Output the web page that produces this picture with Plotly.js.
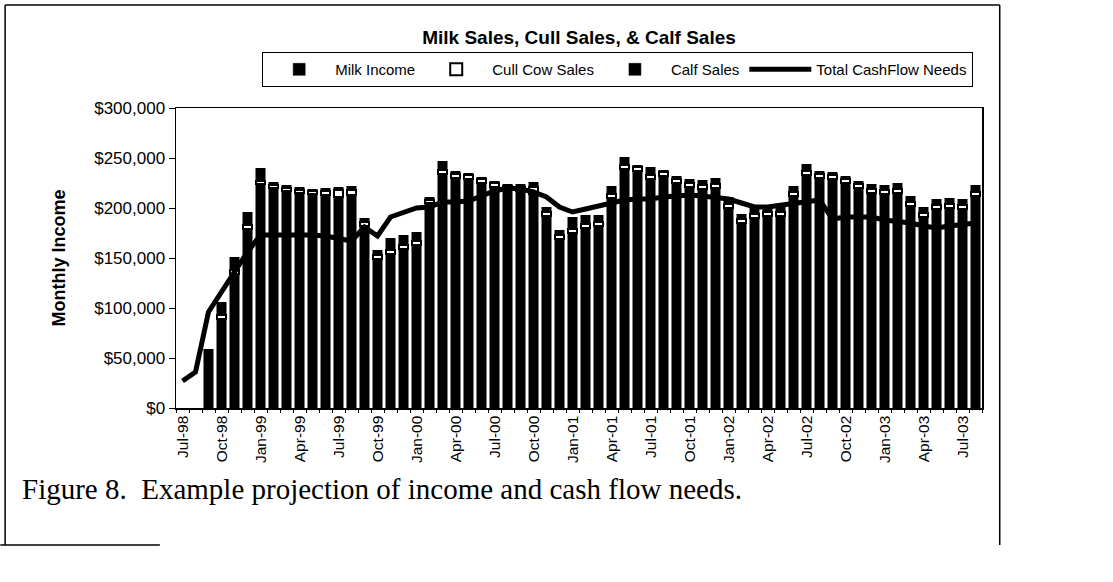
<!DOCTYPE html>
<html>
<head>
<meta charset="utf-8">
<script src="https://cdn.plot.ly/plotly-3.0.1.min.js"></script>
<style>html,body{margin:0;padding:0;background:#fff;}#chart{width:1113px;height:582px;}</style>
</head>
<body>
<div id="chart"></div>
<script>
var months = ["Jul-98","Aug-98","Sep-98","Oct-98","Nov-98","Dec-98",
"Jan-99","Feb-99","Mar-99","Apr-99","May-99","Jun-99","Jul-99","Aug-99","Sep-99","Oct-99","Nov-99","Dec-99",
"Jan-00","Feb-00","Mar-00","Apr-00","May-00","Jun-00","Jul-00","Aug-00","Sep-00","Oct-00","Nov-00","Dec-00",
"Jan-01","Feb-01","Mar-01","Apr-01","May-01","Jun-01","Jul-01","Aug-01","Sep-01","Oct-01","Nov-01","Dec-01",
"Jan-02","Feb-02","Mar-02","Apr-02","May-02","Jun-02","Jul-02","Aug-02","Sep-02","Oct-02","Nov-02","Dec-02",
"Jan-03","Feb-03","Mar-03","Apr-03","May-03","Jun-03","Jul-03","Aug-03"];

var labelledMonths = ["Jul-98","Oct-98","Jan-99","Apr-99","Jul-99","Oct-99","Jan-00","Apr-00","Jul-00","Oct-00",
"Jan-01","Apr-01","Jul-01","Oct-01","Jan-02","Apr-02","Jul-02","Oct-02","Jan-03","Apr-03","Jul-03"];

var milkIncome = [null,null,59000,89000,134000,179000,
224000,220000,217000,215000,214000,213000,211000,213000,182000,149000,154000,159000,
163000,205000,234000,230000,229000,225000,221000,219000,217000,214000,192000,169000,
175000,180000,182000,210000,239000,237000,229000,232000,225000,221000,219000,220000,
200000,185000,190000,192000,192000,212000,233000,230000,229000,225000,220000,215000,
214000,215000,202000,191000,199000,200000,199000,212000];

var cullCowSales = [null,null,null,4000,4000,4000,
3000,3000,3000,3000,3000,4000,7000,5000,4000,4000,4000,4000,
4000,3000,4000,4000,4000,4000,4000,3000,4000,7000,4000,4000,
4000,4000,4000,4000,4000,4000,4000,4000,4000,4000,4000,4000,
4000,4000,4000,4000,4000,4000,4000,4000,4000,4000,4000,4000,
4000,4000,4000,4000,4000,4000,4000,4000];

var calfSales = [null,null,null,13000,13000,13000,
13000,3000,3000,3000,2000,3000,3000,4000,4000,5000,12000,10000,
9000,3000,9000,3000,2000,2000,2000,2000,3000,5000,5000,5000,
12000,9000,7000,8000,8000,2000,8000,2000,3000,4000,5000,6000,
7000,5000,7000,7000,8000,6000,7000,3000,3000,3000,3000,5000,
5000,6000,6000,6000,6000,6000,6000,7000];

var cashFlowNeeds = [27000,36000,96000,116000,137000,156000,
173000,173000,173000,174000,173000,172000,170000,167000,181000,172000,191000,195000,
200000,201000,206000,206000,207000,212000,217000,220000,219000,216000,211000,201000,
196000,199000,202000,204000,208000,209000,209000,211000,212000,213000,212000,211000,
209000,205000,201000,201000,203000,205000,207000,208000,189000,191000,191000,191000,
188000,187000,185000,182000,180000,182000,184000,185000];

var yTickVals = [0,50000,100000,150000,200000,250000,300000];
var yTickText = ["$0","$50,000","$100,000","$150,000","$200,000","$250,000","$300,000"];

var tickText = months.map(function(m){ return labelledMonths.indexOf(m) >= 0 ? m : ""; });

var font = "Liberation Sans, Arial, sans-serif";

var traces = [
  {type:"bar", name:"Milk Income", x:months, y:milkIncome,
   marker:{color:"#000000", line:{color:"#000000", width:0.5}}},
  {type:"bar", name:"Cull Cow Sales", x:months, y:cullCowSales,
   marker:{color:"#ffffff", line:{color:"#000000", width:2}}},
  {type:"bar", name:"Calf Sales", x:months, y:calfSales,
   marker:{color:"#000000", line:{color:"#000000", width:0.5}}},
  {type:"scatter", mode:"lines", name:"Total CashFlow Needs", x:months, y:cashFlowNeeds,
   line:{color:"#000000", width:5}}
];

var layout = {
  width:1113, height:582,
  margin:{l:176, r:131, t:108, b:174},
  paper_bgcolor:"#ffffff", plot_bgcolor:"#ffffff",
  barmode:"stack", bargap:0.3,
  font:{family:font, color:"#000000", size:15},
  title:{text:"<b>Milk Sales, Cull Sales, & Calf Sales</b>", font:{family:font, size:19, color:"#000"},
         x:0.5, xref:"paper", xanchor:"center", y:0.936, yref:"container", yanchor:"middle"},
  showlegend:true,
  legend:{orientation:"h", x:0.548, xanchor:"center", y:1.128, yanchor:"middle",
          bordercolor:"#000", borderwidth:1, bgcolor:"#fff",
          font:{family:font, size:15, color:"#000"}, traceorder:"normal",
          itemwidth:62, tracegroupgap:0},
  xaxis:{type:"category", categoryorder:"array", categoryarray:months,
         tickmode:"array", tickvals:months, ticktext:tickText, tickangle:-90,
         tickson:"boundaries", ticks:"outside", ticklen:3, tickcolor:"#000",
         showline:true, linecolor:"#000", linewidth:1.5, mirror:true,
         showgrid:false, zeroline:false,
         tickfont:{family:font, size:15.5, color:"#000"}},
  yaxis:{range:[0,300000], tickmode:"array", tickvals:yTickVals, ticktext:yTickText,
         ticks:"outside", ticklen:6, tickcolor:"#000",
         showline:true, linecolor:"#000", linewidth:1.5, mirror:true,
         showgrid:false, zeroline:false,
         tickfont:{family:font, size:17, color:"#000"},
         title:{text:"<b>Monthly Income</b>", font:{family:font, size:18, color:"#000"}, standoff:24}},
  annotations:[
    {text:"Figure 8.  Example projection of income and cash flow needs.", xref:"paper", yref:"paper",
     x:-0.1935, y:-0.27, xanchor:"left", yanchor:"middle", showarrow:false,
     font:{family:"Liberation Serif, Times New Roman, serif", size:29, color:"#000"}}
  ],
  shapes:[
    {type:"line", xref:"paper", yref:"paper", x0:-0.212, x1:-0.212, y0:1.343, y1:-0.457, line:{color:"#000", width:1.5}},
    {type:"line", xref:"paper", yref:"paper", x0:-0.212, x1:1.022, y0:1.343, y1:1.343, line:{color:"#000", width:1.5}},
    {type:"line", xref:"paper", yref:"paper", x0:1.022, x1:1.022, y0:1.343, y1:-0.457, line:{color:"#000", width:1.5}},
    {type:"line", xref:"paper", yref:"paper", x0:-0.218, x1:-0.02, y0:-0.457, y1:-0.457, line:{color:"#000", width:1.5}}
  ]
};

Plotly.newPlot("chart", traces, layout, {displayModeBar:false, staticPlot:true});
</script>
</body>
</html>
